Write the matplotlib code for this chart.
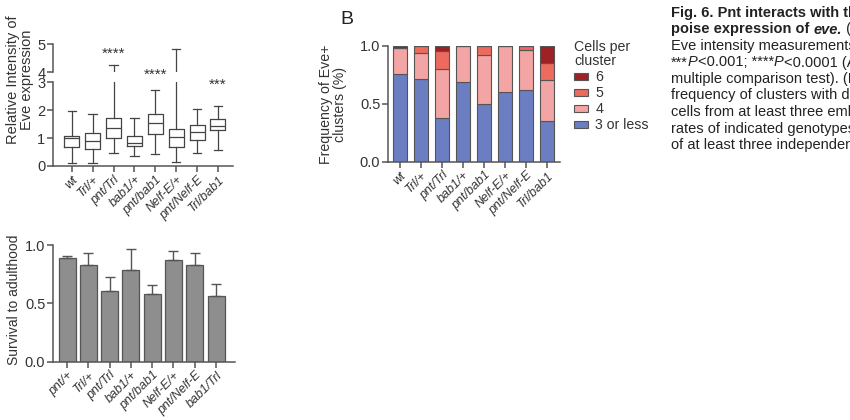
import matplotlib
matplotlib.use("Agg")
import matplotlib.pyplot as plt
from matplotlib.patches import Patch
import numpy as np

plt.rcParams['font.family'] = ['Liberation Sans', 'DejaVu Sans']
plt.rcParams['font.size'] = 10

# panel A: relative Eve intensity (box plots)
geno_a = ['wt', 'Trl/+', 'pnt/Trl', 'bab1/+', 'pnt/bab1', 'Nelf-E/+', 'pnt/Nelf-E', 'Trl/bab1']
whis_lo = [0.12, 0.09, 0.48, 0.36, 0.42, 0.13, 0.47, 0.58]
q1 = [0.67, 0.62, 0.99, 0.73, 1.14, 0.67, 0.93, 1.28]
med = [0.99, 0.91, 1.34, 0.81, 1.52, 1.02, 1.22, 1.43]
q3 = [1.08, 1.17, 1.72, 1.06, 1.84, 1.31, 1.45, 1.69]
whis_hi = [1.95, 1.84, 4.24, 1.72, 2.71, 4.82, 2.03, 2.16]
star_labels = ['', '', '****', '', '****', '', '', '***']
star_y = [0, 0, 4.0, 0, 3.25, 0, 0, 2.9]

# panel B: cluster size frequencies
geno_b = ['wt', 'Trl/+', 'pnt/Trl', 'bab1/+', 'pnt/bab1', 'Nelf-E/+', 'pnt/Nelf-E', 'Trl/bab1']
freq_3 = [0.76, 0.71, 0.38, 0.69, 0.50, 0.60, 0.62, 0.35]
freq_4 = [0.22, 0.225, 0.415, 0.31, 0.42, 0.40, 0.34, 0.355]
freq_5 = [0.0, 0.065, 0.16, 0.0, 0.08, 0.0, 0.04, 0.145]
freq_6 = [0.02, 0.0, 0.045, 0.0, 0.0, 0.0, 0.0, 0.15]
cluster_labels = ['3 or less', '4', '5', '6']
cluster_colors = ['#6b7ec2', '#f3a4a4', '#ec6a5e', '#9e2125']

# panel C: survival
geno_c = ['pnt/+', 'Trl/+', 'pnt/Trl', 'bab1/+', 'pnt/bab1', 'Nelf-E/+', 'pnt/Nelf-E', 'bab1/Trl']
survival = [0.89, 0.83, 0.61, 0.79, 0.58, 0.87, 0.83, 0.56]
survival_err = [0.02, 0.10, 0.12, 0.18, 0.08, 0.08, 0.10, 0.11]

W, H = 850, 420
fig = plt.figure(figsize=(8.5, 4.2), dpi=100)
TXT = '#333333'


def px_axes(left, right, top, bottom):
    return fig.add_axes([left / W, 1 - bottom / H, (right - left) / W, (bottom - top) / H])


def prism(ax):
    for s in ['top', 'right']:
        ax.spines[s].set_visible(False)
    for s in ['left', 'bottom']:
        ax.spines[s].set_color('#555555')
        ax.spines[s].set_linewidth(1.1)
    ax.tick_params(colors='#555555', labelcolor=TXT, width=1.1, length=4,
                   labelsize=10.5, pad=1.5)


def xlabels(ax, labels):
    ax.set_xticks(range(len(labels)))
    ax.set_xticklabels(labels, rotation=45, ha='right', rotation_mode='anchor',
                       style='italic', fontsize=9)


# ---- panel A, broken y axis ----
ax_lo = px_axes(53, 233, 82, 166)
ax_hi = px_axes(53, 233, 44, 72)
stats = [dict(whislo=a, q1=b, med=c, q3=d, whishi=e, fliers=[])
         for a, b, c, d, e in zip(whis_lo, q1, med, q3, whis_hi)]
lw = dict(color='#444444', linewidth=0.9)
for ax in (ax_lo, ax_hi):
    ax.bxp(stats, positions=range(8), widths=0.72, showfliers=False,
           boxprops=lw, whiskerprops=lw, capprops=lw, medianprops=lw,
           capwidths=0.4)
    ax.set_xlim(-0.9, 7.72)
    prism(ax)
ax_lo.set_ylim(0, 3)
ax_lo.set_yticks([0, 1, 2, 3])
ax_hi.set_ylim(4, 5)
ax_hi.set_yticks([4, 5])
ax_hi.spines['bottom'].set_visible(False)
ax_hi.tick_params(axis='x', bottom=False, labelbottom=False)
ax_hi.patch.set_visible(False)
xlabels(ax_lo, geno_a)
for i, s in enumerate(star_labels):
    if s:
        ax_lo.text(i, star_y[i], s, ha='center', va='center', fontsize=11,
                   color=TXT, clip_on=False, zorder=10)
fig.text(20 / W, 1 - 80 / H, 'Relative Intensity of\nEve expression', rotation=90,
         ha='center', va='center', fontsize=10.5, color=TXT, linespacing=1.05)

# ---- panel B, stacked bars ----
ax_b = px_axes(388, 560, 45.7, 161.7)
x_b = np.arange(len(geno_b))
bottom = np.zeros(len(geno_b))
for vals, col in zip([freq_3, freq_4, freq_5, freq_6], cluster_colors):
    ax_b.bar(x_b, vals, 0.66, bottom=bottom, color=col, edgecolor='#555555', linewidth=0.8)
    bottom += np.array(vals)
ax_b.set_ylim(0, 1)
ax_b.set_yticks([0, 0.5, 1.0])
ax_b.set_yticklabels(['0.0', '0.5', '1.0'])
ax_b.set_xlim(-0.57, 7.62)
prism(ax_b)
xlabels(ax_b, geno_b)
fig.text(333 / W, 1 - 104 / H, 'Frequency of Eve+\nclusters (%)', rotation=90,
         ha='center', va='center', fontsize=10.2, color=TXT, linespacing=1.05)
handles = [Patch(facecolor=c, edgecolor='#555555', linewidth=0.8) for c in cluster_colors]
leg = ax_b.legend(handles[::-1], cluster_labels[::-1], title='Cells per\ncluster',
                  loc='upper left', bbox_to_anchor=(564 / W, 1 - 30 / H),
                  bbox_transform=fig.transFigure, frameon=False, fontsize=10.2,
                  title_fontsize=10.2, handlelength=1.0, handleheight=0.45,
                  handletextpad=0.5, labelspacing=0.14, alignment='left',
                  borderpad=0.2)
for t in leg.get_texts():
    t.set_color(TXT)
leg.get_title().set_color(TXT)
leg.get_title().set_linespacing(1.05)
fig.text(347 / W, 1 - 19 / H, 'B', ha='center', va='center', fontsize=14, color='#222222')

# ---- panel C, survival bars ----
ax_c = px_axes(53, 235, 245, 361.7)
x_c = np.arange(len(geno_c))
ax_c.bar(x_c, survival, 0.8, color='#8e8e8e', edgecolor='#555555', linewidth=0.9,
         yerr=[np.zeros(len(survival)), survival_err], capsize=3.5,
         error_kw=dict(ecolor='#555555', elinewidth=1.0, capthick=1.0))
ax_c.set_ylim(0, 1)
ax_c.set_yticks([0, 0.5, 1.0])
ax_c.set_yticklabels(['0.0', '0.5', '1.0'])
ax_c.set_xlim(-0.66, 7.89)
prism(ax_c)
xlabels(ax_c, geno_c)
fig.text(14 / W, 1 - 300 / H, 'Survival to adulthood', rotation=90,
         ha='center', va='center', fontsize=10, color=TXT)

# ---- caption text on the right (cut by the figure edge) ----
caption = [
    [('Fig. 6. Pnt interacts with the', 'normal', 'bold')],
    [('poise expression of ', 'normal', 'bold'), ('eve.', 'italic', 'bold'), (' (A', 'normal', 'normal')],
    [('Eve intensity measurements', 'normal', 'normal')],
    [('***', 'normal', 'normal'), ('P', 'italic', 'normal'), ('<0.001; ****', 'normal', 'normal'),
     ('P', 'italic', 'normal'), ('<0.0001 (A', 'normal', 'normal')],
    [('multiple comparison test). (B', 'normal', 'normal')],
    [('frequency of clusters with di', 'normal', 'normal')],
    [('cells from at least three emb', 'normal', 'normal')],
    [('rates of indicated genotypes', 'normal', 'normal')],
    [('of at least three independen', 'normal', 'normal')],
]
fig.canvas.draw()
renderer = fig.canvas.get_renderer()
cap_fs = 10.5
for li, runs in enumerate(caption):
    x = 671
    y = 13 + li * 16.5
    for txt, style, weight in runs:
        t = fig.text(x / W, 1 - y / H, txt, ha='left', va='center', fontsize=cap_fs,
                     style=style, weight=weight, color='#222222')
        bb = t.get_window_extent(renderer)
        x += bb.width

fig.savefig('out.png', dpi=100)
